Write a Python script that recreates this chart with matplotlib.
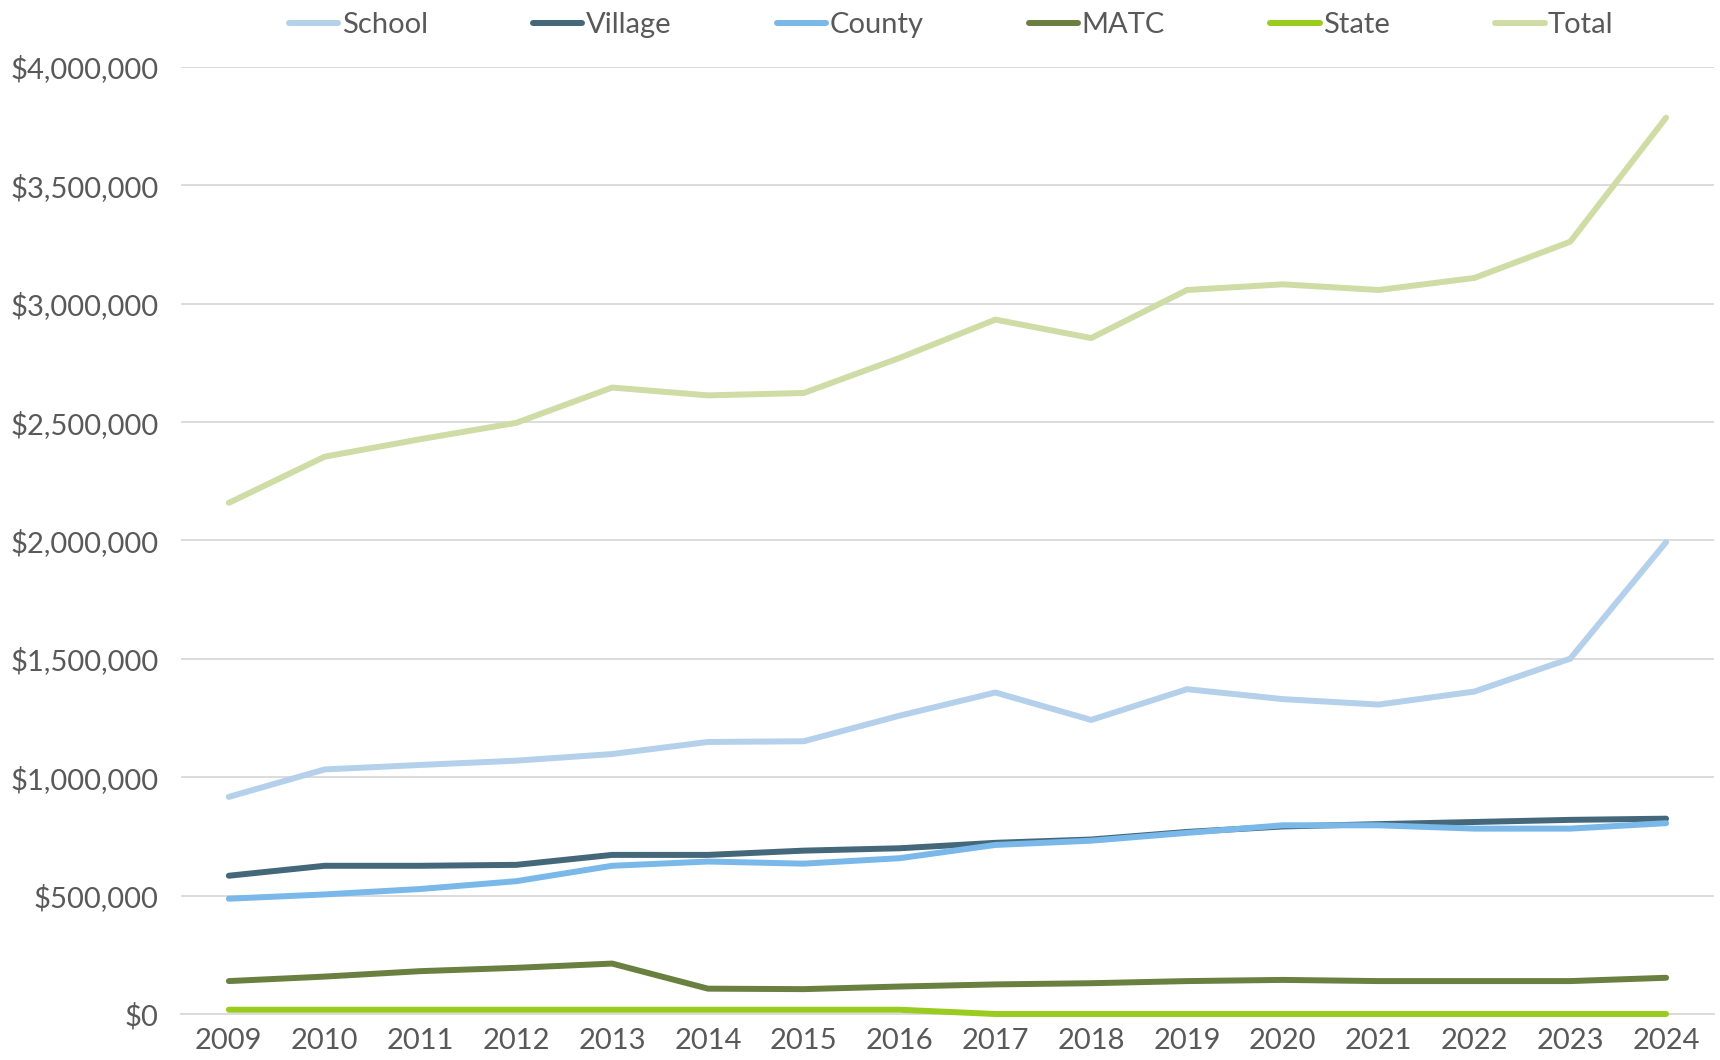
import matplotlib
matplotlib.use("Agg")
import matplotlib.pyplot as plt
from matplotlib.ticker import FuncFormatter

# Data
years = [2009, 2010, 2011, 2012, 2013, 2014, 2015, 2016,
         2017, 2018, 2019, 2020, 2021, 2022, 2023, 2024]

school = [917000, 1033000, 1052000, 1070000, 1098000, 1149000, 1152000, 1260000,
          1358000, 1242000, 1372000, 1330000, 1307000, 1362000, 1501000, 1993000]
village = [584000, 626000, 626000, 630000, 672000, 672000, 690000, 700000,
           723000, 737000, 769000, 792000, 802000, 811000, 820000, 825000]
county = [487000, 505000, 528000, 561000, 626000, 644000, 635000, 658000,
          714000, 732000, 765000, 797000, 797000, 783000, 783000, 806000]
matc = [139000, 158000, 181000, 195000, 213000, 107000, 105000, 116000,
        125000, 130000, 139000, 144000, 139000, 139000, 139000, 153000]
state = [18000, 18000, 18000, 18000, 18000, 18000, 18000, 18000,
         0, 0, 0, 0, 0, 0, 0, 0]
total = [2159000, 2354000, 2428000, 2497000, 2646000, 2613000, 2623000, 2771000,
         2933000, 2855000, 3058000, 3082000, 3058000, 3109000, 3262000, 3786000]

series_names = ["School", "Village", "County", "MATC", "State", "Total"]
series_values = [school, village, county, matc, state, total]
colors = ["#B4D0EA", "#44687A", "#79B8E8", "#6A8040", "#99CC1F", "#CFDCA5"]

plt.rcParams['font.family'] = ['Lato', 'DejaVu Sans']
text_color = "#595959"

fig = plt.figure(figsize=(17.2, 10.6), dpi=100)
ax = fig.add_axes([0.1052, 0.0434, 0.8913, 0.8934])

x = list(range(len(years)))
for name, vals, c in zip(series_names, series_values, colors):
    ax.plot(x, vals, color=c, linewidth=4.3, solid_capstyle="round",
            solid_joinstyle="round", label=name, clip_on=False, zorder=3)

ax.set_xlim(-0.5, len(years) - 0.5)
ax.set_ylim(0, 4000000)
ax.set_yticks(range(0, 4000001, 500000))
ax.yaxis.set_major_formatter(FuncFormatter(lambda v, p: "${:,.0f}".format(v)))
ax.set_xticks(x)
ax.set_xticklabels([str(y) for y in years])

ax.grid(axis="y", color="#D9D9D9", linewidth=1.3)
ax.set_axisbelow(True)
for s in ["top", "right", "left"]:
    ax.spines[s].set_visible(False)
ax.spines["bottom"].set_color("#D9D9D9")
ax.spines["bottom"].set_linewidth(1.3)
ax.tick_params(axis="both", length=0, labelsize=21, colors=text_color)
ax.tick_params(axis="y", pad=16)
ax.tick_params(axis="x", pad=10)

leg = fig.legend(loc="upper center", bbox_to_anchor=(0.553, 1.013), ncol=6,
                 frameon=False, fontsize=21, handlelength=1.7, handletextpad=0.12,
                 columnspacing=3.6, labelcolor=text_color)

fig.savefig("out.png", dpi=100)
